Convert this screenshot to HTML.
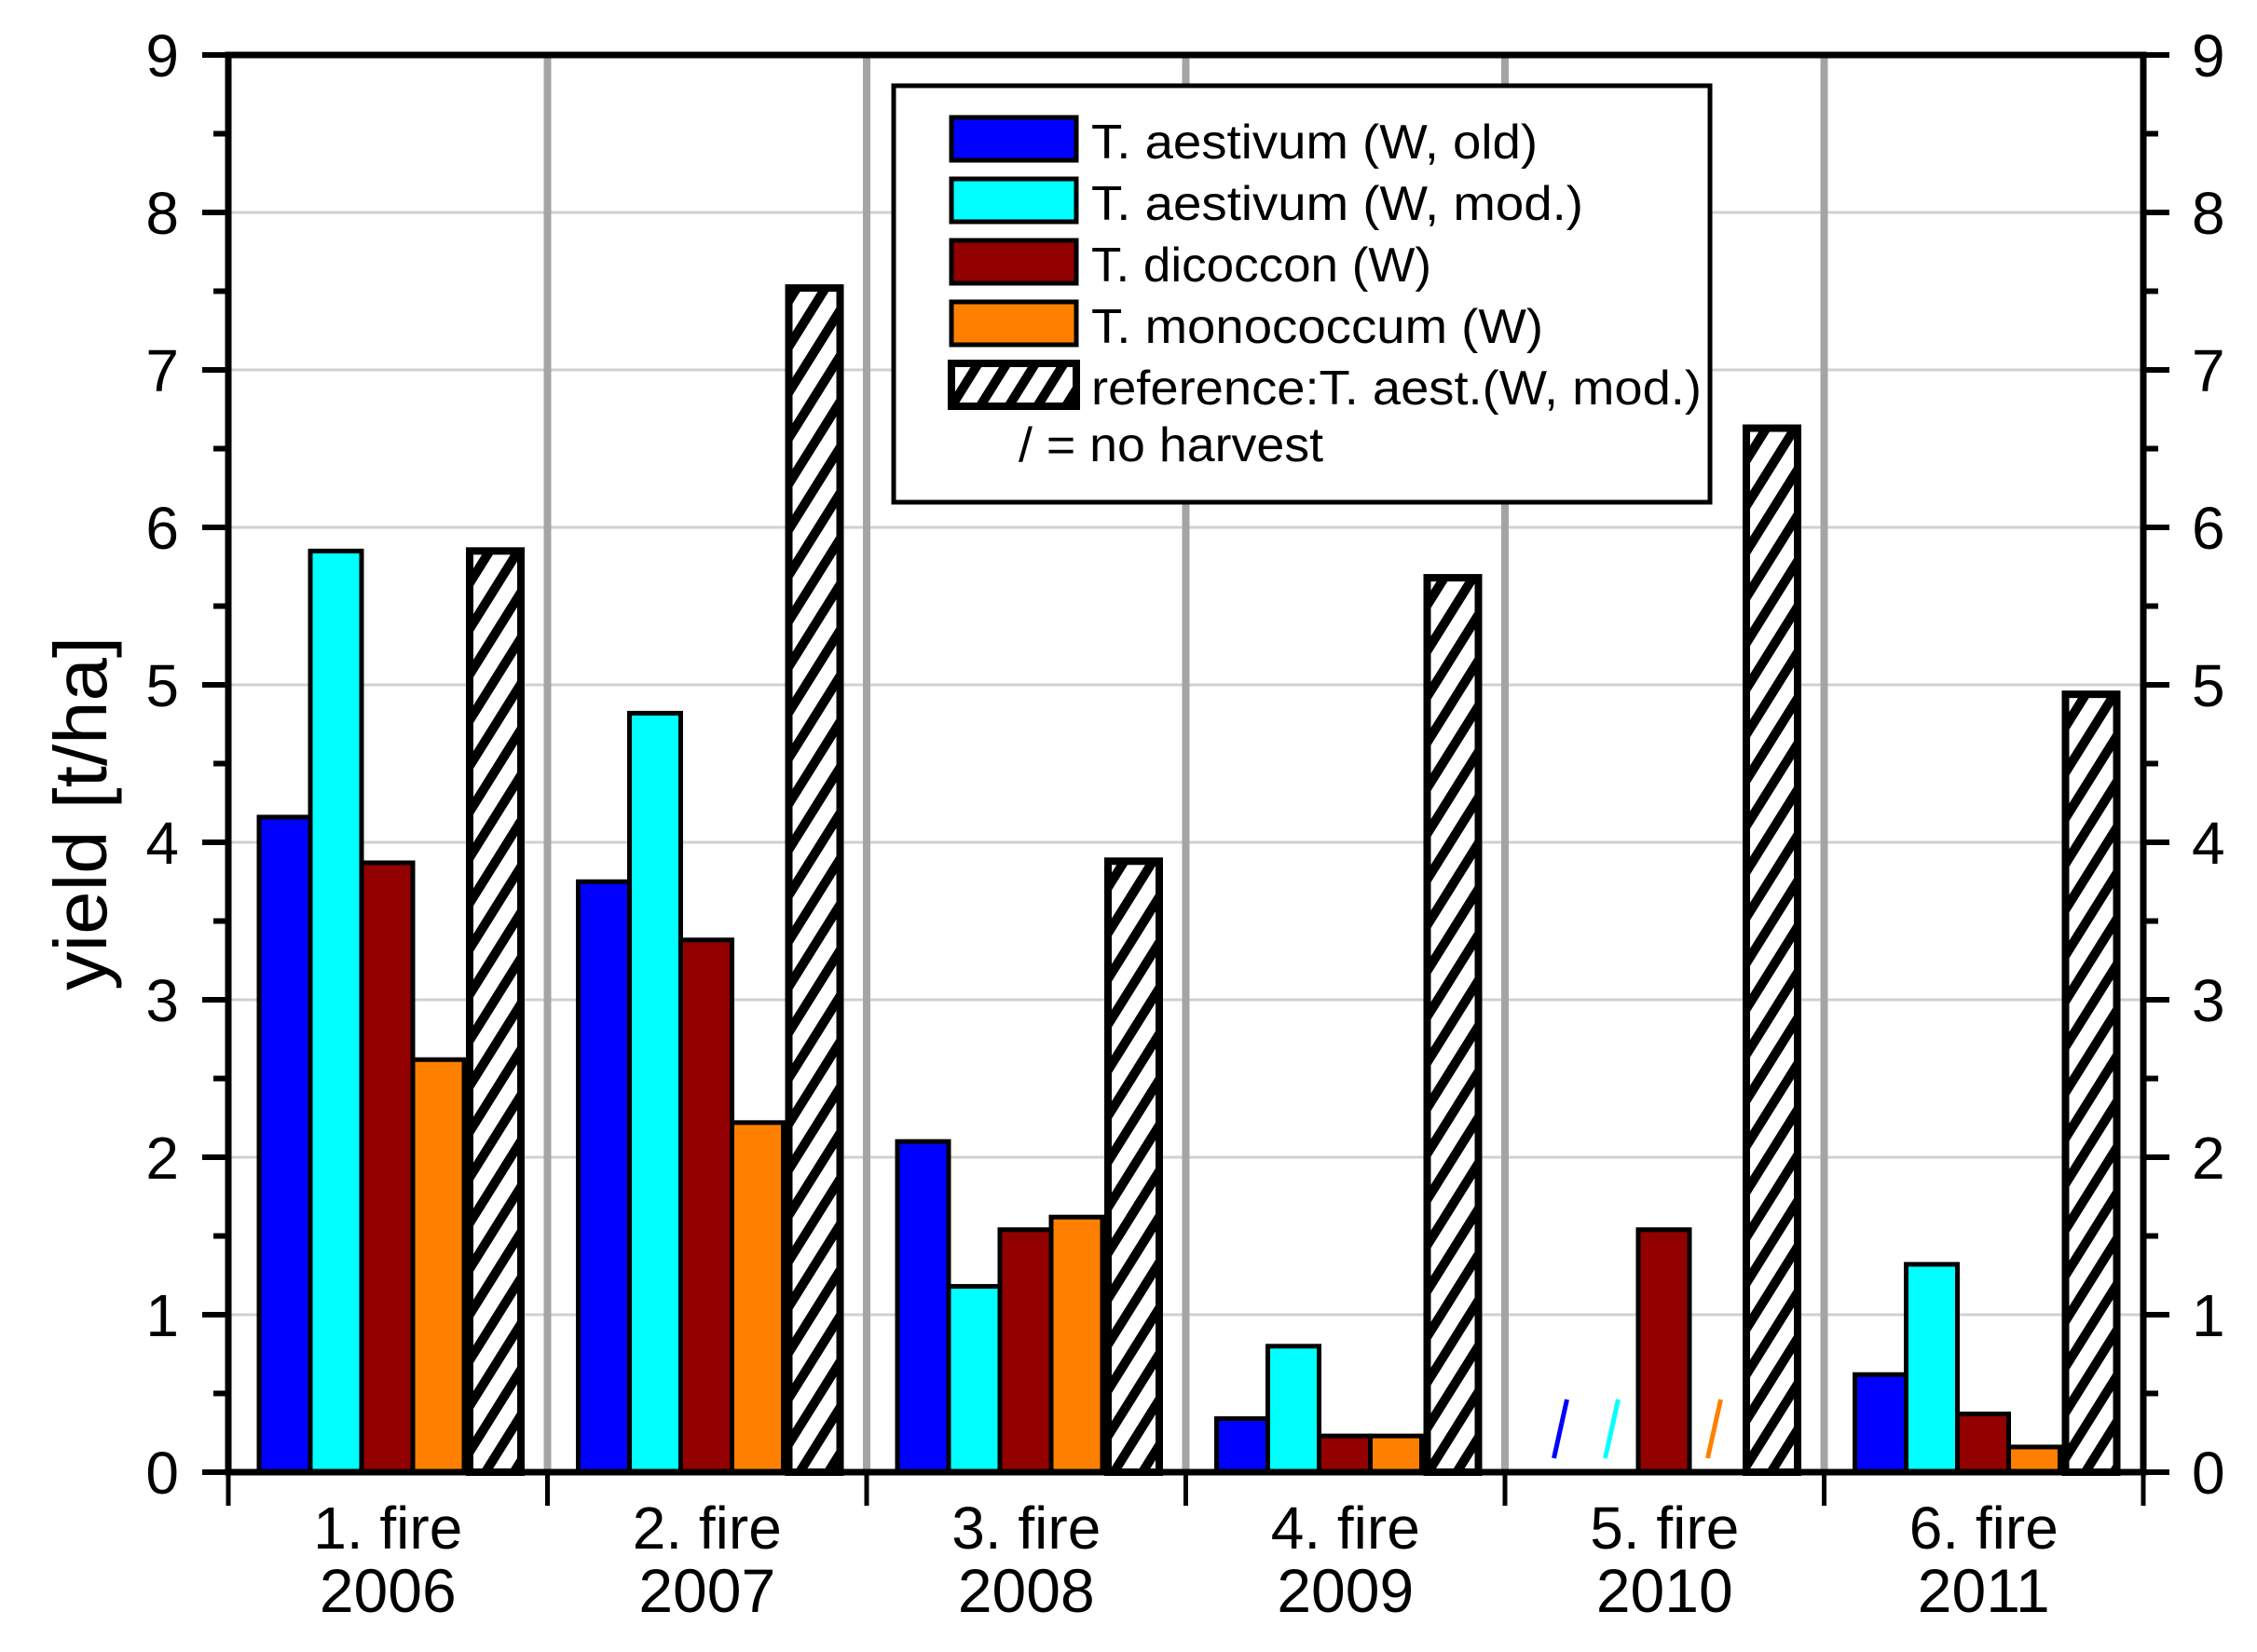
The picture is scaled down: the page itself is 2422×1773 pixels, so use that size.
<!DOCTYPE html>
<html><head><meta charset="utf-8"><style>
html,body{margin:0;padding:0;background:#fff;}
svg{display:block;font-family:"Liberation Sans",Arial,sans-serif;}
</style></head><body>
<svg id="chart" width="2422" height="1773" viewBox="0 0 2422 1773" xmlns="http://www.w3.org/2000/svg">
<defs>
<pattern id="hatch" patternUnits="userSpaceOnUse" width="26" height="26" patternTransform="rotate(32)">
<rect width="26" height="26" fill="#fff"/>
<rect x="0" y="0" width="10" height="26" fill="#000"/>
</pattern>
</defs>
<g id="grid"></g>
<g id="bars"></g>
<g id="axes"></g>
<g id="legend"></g>
</svg>
<script>
const categories = ["1. fire", "2. fire", "3. fire", "4. fire", "5. fire", "6. fire"];
const years = ["2006", "2007", "2008", "2009", "2010", "2011"];
const seriesNames = ["T. aestivum (W, old)", "T. aestivum (W, mod.)", "T. dicoccon (W)", "T. monococcum (W)", "reference:T. aest.(W, mod.)"];
const aestOld = [4.16, 3.75, 2.10, 0.34, null, 0.62];
const aestMod = [5.85, 4.82, 1.18, 0.80, null, 1.32];
const dicoccon = [3.87, 3.38, 1.54, 0.23, 1.54, 0.37];
const monococcum = [2.62, 2.22, 1.62, 0.23, null, 0.16];
const reference = [5.85, 7.52, 3.88, 5.68, 6.63, 4.94];
const yTicks = [0, 1, 2, 3, 4, 5, 6, 7, 8, 9];

const NS = "http://www.w3.org/2000/svg";
const L = 245, R = 2300, T = 59, B = 1580, YMAX = 9;
const groupW = (R - L) / categories.length;
const barW = 55, barOff = 33;
function y(v){ return B - (v / YMAX) * (B - T); }
function gx(i){ return L + i * groupW; }
function bx(i, k){ return gx(i) + barOff + k * barW + (k === 4 ? 6 : 0); }
function mk(parent, tag, attrs){
  const e = document.createElementNS(NS, tag);
  for (const k in attrs) e.setAttribute(k, attrs[k]);
  parent.appendChild(e); return e;
}
const grid = document.getElementById('grid');
const bars = document.getElementById('bars');
const axes = document.getElementById('axes');
const legend = document.getElementById('legend');

yTicks.forEach(v => {
  if (v > 0 && v < YMAX) {
    const g = mk(grid, 'line', {x1: L, x2: R, y1: y(v), y2: y(v), stroke: '#d0d0d0', 'stroke-width': 3});
    
    
  }
});
for (let i = 1; i < categories.length; i++) {
  const s = mk(grid, 'line', {x1: gx(i), x2: gx(i), y1: T, y2: B, stroke: '#a4a4a4', 'stroke-width': 8});
  
  
}

const series = [aestOld, aestMod, dicoccon, monococcum, reference];
const fills = ['#0000ff', '#00ffff', '#920000', '#ff8000', 'url(#hatch)'];
const slashColors = ['#0000ff', '#00ffff', '#920000', '#ff8000', '#000'];
series.forEach((arr, k) => {
  arr.forEach((v, i) => {
    const x = bx(i, k);
    if (v === null) {
      const cx = x + barW / 2;
      const sl = mk(bars, 'line', {x1: cx - 8, y1: B - 15, x2: cx + 6, y2: B - 78, stroke: slashColors[k], 'stroke-width': 5});
      
      
      return;
    }
    const r = mk(bars, 'rect', {x: x, y: y(v), width: barW, height: B - y(v), fill: fills[k], stroke: '#000', 'stroke-width': k === 4 ? 8 : 5});
    
    
  });
});

const frame = mk(axes, 'path', {d: `M${L},${T} H${R} V${B} H${L} Z`, fill: 'none', stroke: '#000', 'stroke-width': 7});


for (let v = 0; v <= YMAX; v += 0.5) {
  const major = Number.isInteger(v);
  const len = major ? 28 : 16;
  mk(axes, 'line', {x1: L - len, x2: L, y1: y(v), y2: y(v), stroke: '#000', 'stroke-width': 6});
  mk(axes, 'line', {x1: R, x2: R + len, y1: y(v), y2: y(v), stroke: '#000', 'stroke-width': 6});
}
yTicks.forEach(v => {
  const t1 = mk(axes, 'text', {x: 192, y: y(v) + 23, 'font-size': 64, 'text-anchor': 'end'});
  t1.textContent = v;
  
  
  const t2 = mk(axes, 'text', {x: 2352, y: y(v) + 23, 'font-size': 64, 'text-anchor': 'start'});
  t2.textContent = v;
  
  
});
for (let i = 0; i <= categories.length; i++) {
  mk(axes, 'line', {x1: gx(i), x2: gx(i), y1: B, y2: B + 36, stroke: '#000', 'stroke-width': 5});
}
categories.forEach((c, i) => {
  const cx = gx(i) + groupW / 2;
  const t = mk(axes, 'text', {x: cx, y: 1662, 'font-size': 64, 'text-anchor': 'middle'});
  t.textContent = c;
  
  
  const t2 = mk(axes, 'text', {x: cx, y: 1730, 'font-size': 66, 'text-anchor': 'middle'});
  t2.textContent = years[i];
  
  
});
const yt = mk(axes, 'text', {x: 0, y: 0, 'font-size': 80, 'text-anchor': 'middle', textLength: 380, lengthAdjust: 'spacingAndGlyphs', transform: 'translate(114,873) rotate(-90)'});
yt.textContent = 'yield [t/ha]';



const lb = mk(legend, 'rect', {x: 959, y: 92, width: 876, height: 447, fill: '#fff', stroke: '#000', 'stroke-width': 5});


const legLens = [479, 528, 365, 485, 655];
seriesNames.forEach((n, k) => {
  const ry = 126 + k * 66;
  const sw = mk(legend, 'rect', {x: 1021, y: ry, width: 134, height: 46, fill: fills[k], stroke: '#000', 'stroke-width': k === 4 ? 8 : 5});
  
  
  const t = mk(legend, 'text', {x: 1171, y: ry + 44, 'font-size': 52, textLength: legLens[k], lengthAdjust: 'spacingAndGlyphs'});
  t.textContent = n;
  
  
});
const nh = mk(legend, 'text', {x: 1093, y: 495, 'font-size': 52, textLength: 327, lengthAdjust: 'spacingAndGlyphs'});
nh.textContent = '/ = no harvest';


</script>
</body></html>
